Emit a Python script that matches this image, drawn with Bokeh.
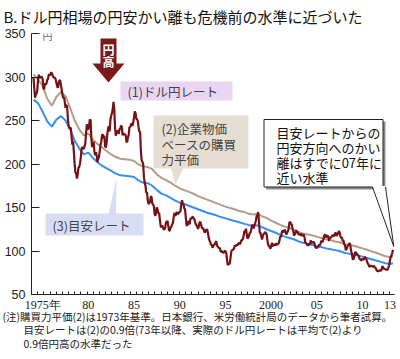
import numpy as np
from bokeh.plotting import figure
from bokeh.models import FixedTicker, Label, Range1d, Title
from bokeh.embed import file_html
from bokeh.resources import INLINE

# ---------------- data ----------------
rate_start_year = 1974
# (1) USD/JPY monthly average, Jan 1974 - May 2013
usd_jpy_monthly = [
    299.0, 287.6, 276.3, 279.9, 281.2, 284.4, 297.5, 302.6, 299.3, 299.6, 300.0, 300.2,
    297.7, 286.6, 286.1, 292.7, 291.4, 292.4, 296.7, 297.5, 302.8, 302.6, 302.0, 305.2,
    304.6, 302.1, 300.0, 299.2, 299.2, 297.6, 293.6, 289.3, 287.6, 292.7, 295.9, 296.3,
    290.4, 286.0, 279.7, 275.8, 277.2, 271.6, 264.6, 267.6, 266.9, 254.3, 244.2, 240.8,
    241.9, 241.3, 231.6, 222.3, 226.2, 213.9, 200.1, 190.3, 189.3, 183.3, 187.7, 195.6,
    196.6, 200.1, 206.5, 216.9, 219.6, 218.0, 217.2, 220.3, 223.4, 235.3, 245.7, 240.5,
    239.5, 245.0, 251.4, 250.2, 228.8, 219.4, 222.7, 225.8, 214.2, 210.1, 213.6, 209.5,
    202.2, 205.9, 208.3, 215.2, 222.5, 225.6, 233.4, 233.9, 229.4, 232.6, 220.3, 219.0,
    224.8, 235.2, 241.2, 243.5, 237.3, 251.5, 255.3, 258.6, 262.8, 271.3, 264.4, 242.6,
    232.6, 235.8, 238.4, 237.6, 234.7, 240.0, 240.6, 244.2, 242.3, 233.0, 235.3, 234.3,
    233.9, 233.5, 225.7, 225.3, 230.4, 233.1, 242.6, 242.2, 245.5, 246.7, 243.6, 247.9,
    254.1, 260.5, 258.4, 251.7, 251.6, 248.9, 241.7, 237.2, 236.9, 214.7, 204.0, 202.8,
    199.9, 184.9, 178.7, 175.1, 167.0, 167.5, 158.6, 154.2, 154.8, 156.5, 162.9, 162.0,
    154.5, 153.5, 151.6, 143.0, 140.5, 144.5, 150.3, 147.3, 143.3, 143.3, 135.4, 128.2,
    127.4, 129.3, 127.2, 124.9, 124.8, 127.5, 133.1, 133.6, 134.5, 128.9, 123.2, 123.6,
    127.4, 127.8, 130.4, 132.0, 138.4, 143.9, 140.4, 141.5, 145.1, 141.9, 143.5, 143.7,
    145.0, 145.7, 153.3, 158.5, 154.0, 153.7, 149.0, 147.5, 138.4, 129.6, 129.2, 133.9,
    133.7, 130.5, 137.4, 137.1, 138.2, 139.8, 137.8, 136.8, 134.3, 130.8, 129.6, 128.0,
    125.5, 128.0, 132.9, 133.5, 130.8, 126.8, 125.9, 126.2, 122.6, 121.2, 123.9, 123.9,
    124.9, 120.8, 115.4, 112.2, 110.2, 107.3, 107.5, 103.8, 105.7, 107.0, 107.9, 109.9,
    111.4, 106.3, 105.1, 103.5, 103.8, 102.7, 98.6, 100.0, 98.8, 98.4, 98.0, 100.2,
    99.8, 98.2, 90.8, 83.7, 85.2, 84.6, 87.2, 94.6, 100.5, 100.8, 101.9, 101.9,
    105.8, 105.8, 105.9, 107.4, 106.5, 108.8, 109.2, 107.8, 109.8, 112.4, 112.3, 113.9,
    118.0, 123.0, 122.7, 125.6, 119.2, 114.3, 115.4, 117.9, 120.9, 121.1, 125.4, 129.7,
    129.5, 125.8, 129.1, 131.8, 135.0, 140.4, 140.9, 144.7, 134.5, 121.1, 120.6, 117.4,
    113.3, 116.7, 119.5, 119.8, 122.0, 120.7, 119.8, 113.3, 107.4, 106.0, 104.8, 102.6,
    105.2, 109.3, 106.3, 105.6, 108.3, 106.1, 108.2, 108.1, 106.8, 108.4, 108.9, 112.2,
    116.7, 116.1, 121.2, 123.8, 121.8, 122.2, 124.6, 121.5, 118.9, 121.4, 122.4, 125.6,
    132.7, 133.6, 131.1, 130.8, 126.4, 123.3, 117.9, 118.9, 120.4, 123.9, 121.5, 121.9,
    118.8, 119.3, 118.6, 119.9, 117.4, 118.3, 118.7, 118.7, 114.8, 109.5, 109.2, 107.7,
    106.3, 106.7, 108.5, 107.7, 112.2, 109.4, 109.5, 110.2, 110.1, 108.8, 104.7, 103.8,
    103.3, 104.9, 104.9, 107.2, 106.6, 108.8, 111.9, 110.6, 111.2, 114.9, 118.5, 118.5,
    115.5, 117.9, 117.3, 117.1, 111.5, 114.5, 115.6, 115.9, 117.2, 118.6, 117.3, 117.3,
    120.6, 120.5, 117.3, 118.8, 120.8, 122.6, 121.6, 116.8, 115.0, 115.9, 111.2, 112.4,
    107.6, 107.1, 100.8, 102.6, 104.4, 106.9, 106.9, 109.4, 106.6, 100.1, 96.9, 91.3,
    90.2, 92.6, 97.8, 98.9, 96.7, 96.6, 94.5, 94.9, 91.4, 90.3, 89.2, 89.5,
    91.3, 90.1, 90.7, 93.4, 91.8, 90.9, 87.7, 85.4, 84.4, 81.8, 82.5, 83.3,
    82.6, 82.5, 81.6, 83.2, 81.1, 80.5, 79.3, 77.0, 76.8, 76.7, 77.5, 77.8,
    76.9, 78.5, 82.4, 81.4, 79.7, 79.3, 79.0, 78.7, 78.2, 78.9, 80.9, 83.6,
    89.1, 93.1, 94.8, 97.7, 101.5,
]

# (2) PPP (corporate goods price based) and (3) guide rate, half-yearly
ppp_years = [
    1974.0, 1974.5, 1975.0, 1975.5, 1976.0, 1976.5, 1977.0, 1977.5, 1978.0, 1978.5,
    1979.0, 1979.5, 1980.0, 1980.5, 1981.0, 1981.5, 1982.0, 1982.5, 1983.0, 1983.5,
    1984.0, 1984.5, 1985.0, 1985.5, 1986.0, 1986.5, 1987.0, 1987.5, 1988.0, 1988.5,
    1989.0, 1989.5, 1990.0, 1990.5, 1991.0, 1991.5, 1992.0, 1992.5, 1993.0, 1993.5,
    1994.0, 1994.5, 1995.0, 1995.5, 1996.0, 1996.5, 1997.0, 1997.5, 1998.0, 1998.5,
    1999.0, 1999.5, 2000.0, 2000.5, 2001.0, 2001.5, 2002.0, 2002.5, 2003.0, 2003.5,
    2004.0, 2004.5, 2005.0, 2005.5, 2006.0, 2006.5, 2007.0, 2007.5, 2008.0, 2008.5,
    2009.0, 2009.5, 2010.0, 2010.5, 2011.0, 2011.5, 2012.0, 2012.5, 2013.0, 2013.33,
]
ppp_values = [
    303, 297, 290, 275, 267, 277, 283, 278, 265, 250,
    240, 233, 235, 228, 223, 219, 215, 211, 208, 206,
    205.5, 205, 203.5, 199.5, 197, 196.5, 194, 188, 184, 181.5,
    178.5, 175, 172, 170, 168, 166, 163, 161, 159, 157,
    155, 153, 151, 149.5, 148, 146, 145, 143, 142, 142.5,
    140, 138, 135, 132.5, 130, 128, 126.5, 124.5, 122, 120,
    119, 118, 116.5, 115, 113.5, 112.5, 111, 110, 108, 107,
    106, 104.5, 103, 101.5, 99.5, 98, 96, 94, 93, 93.5,
]
guide_values = [
    274, 270, 260, 249, 243, 251, 255, 250, 240, 227,
    218, 211, 213, 207, 202, 198, 195, 192, 189, 187,
    186.5, 186, 185, 181, 178.5, 178, 175, 170, 166, 164,
    161, 158, 155.5, 154, 152, 150, 148, 146, 144, 142.5,
    141, 139, 137.5, 136, 134.5, 133, 131.5, 130, 129, 129.5,
    127.5, 125, 123, 121, 118.5, 116.5, 115, 113.5, 111, 109.5,
    108, 107, 105.5, 104.5, 103, 102, 101, 100, 98, 97,
    96, 95, 93.5, 92, 90.5, 89, 87.5, 86, 85, 86,
]

x_tick_years = [1975, 1980, 1985, 1990, 1995, 2000, 2005, 2010, 2013]
x_tick_labels = ["1975年", "80", "85", "90", "95", "2000", "05", "10", "13"]
y_ticks = [50, 100, 150, 200, 250, 300, 350]

title_text = "B.ドル円相場の円安かい離も危機前の水準に近づいた"
unit_text = "円"
label_1 = "(1)ドル円レート"
label_2 = ["(2)企業物価", "ベースの購買", "力平価"]
label_3 = "(3)目安レート"
callout_lines = ["目安レートからの", "円安方向へのかい", "離はすでに07年に", "近い水準"]
arrow_chars = ["円", "高"]
note_lines = [
    "(注)購買力平価(2)は1973年基準。日本銀行、米労働統計局のデータから筆者試算。",
    "\u3000\u3000目安レートは(2)の0.9倍(73年以降、実際のドル円レートは平均で(2)より",
    "\u3000\u30000.9倍円高の水準だった",
]

# ---------------- layout ----------------
W, H = 400, 359
X0, X1 = 1973.78, 2013.5
Y0, Y1 = 50, 350
# page-pixel positions of the plot frame
FL, FR, FT, FB = 31, 394, 33, 294

def dx(px):
    return X0 + (px - FL) * (X1 - X0) / (FR - FL)

def dy(py):
    return Y0 + (FB - py) * (Y1 - Y0) / (FB - FT)

JP = "Noto Sans CJK JP"

p = figure(width=W, height=H, x_range=Range1d(X0, X1), y_range=Range1d(Y0, Y1),
           output_backend="svg", toolbar_location=None,
           min_border_left=FL, min_border_right=W - FR,
           min_border_top=FT, min_border_bottom=H - FB)
p.outline_line_color = None
p.grid.visible = False
p.background_fill_color = "white"
p.border_fill_color = "white"

# title (top)
p.title.text = title_text
p.title.align = "left"
p.title.vertical_align = "top"
p.title.offset = -28
p.title.standoff = 9
p.title.text_font = JP
p.title.text_font_size = "15px"
p.title.text_font_style = "normal"
p.title.text_color = "#111111"

# axes
step = 6.17 * (X1 - X0) / (FR - FL)
p.xaxis.ticker = FixedTicker(ticks=x_tick_years, minor_ticks=list(np.arange(X0, X1, step)))
p.xaxis.major_label_overrides = {y: l for y, l in zip(x_tick_years, x_tick_labels)}
p.xaxis.major_tick_in = 0
p.xaxis.major_tick_out = 0
p.xaxis.minor_tick_in = 3
p.xaxis.minor_tick_out = 0
p.xaxis.minor_tick_line_color = "#222222"
p.xaxis.axis_line_color = "#222222"
p.xaxis.major_label_text_font = "Liberation Sans Narrow"
p.xaxis.major_label_text_font_size = "12px"
p.xaxis.major_label_text_color = "#222222"
p.xaxis.major_label_standoff = 3

p.yaxis.ticker = FixedTicker(ticks=y_ticks, minor_ticks=[])
p.yaxis.major_tick_in = 8
p.yaxis.major_tick_out = 0
p.yaxis.minor_tick_in = 0
p.yaxis.minor_tick_out = 0
p.yaxis.major_tick_line_color = "#222222"
p.yaxis.axis_line_color = "#222222"
p.yaxis.major_label_text_font = "Liberation Sans"
p.yaxis.major_label_text_font_size = "12.5px"
p.yaxis.major_label_text_color = "#222222"
p.yaxis.major_label_standoff = 6

# footnote block (below the x axis)
p.add_layout(Title(text="\n".join(note_lines), align="left", vertical_align="top",
                   offset=-29, standoff=-12, text_line_height=0.92,
                   text_font=JP, text_font_size="10.5px", text_font_style="normal",
                   text_color="#222222"), "below")

# series
months = rate_start_year + np.arange(len(usd_jpy_monthly)) / 12.0
p.line(ppp_years, ppp_values, line_color="#b39d86", line_width=2)
p.line(ppp_years, guide_values, line_color="#3b8ff0", line_width=2)
p.line(months, usd_jpy_monthly, line_color="#741218", line_width=2.2)

# ---- annotation boxes ----
# 円高 arrow
dark = "#7a1a1a"
p.quad(left=dx(100), right=dx(116), top=dy(38), bottom=dy(66), fill_color=dark, line_color=None)
p.patch([dx(92), dx(124), dx(108)], [dy(63), dy(63), dy(82)], fill_color=dark, line_color=None)
for ch, yy in zip(arrow_chars, [49, 61]):
    p.add_layout(Label(x=dx(108), y=dy(yy), text=ch, text_font=JP, text_font_size="12px",
                       text_font_style="bold", text_color="white", text_align="center",
                       text_baseline="middle"))

# (1)
p.quad(left=dx(120), right=dx(232), top=dy(81), bottom=dy(100), fill_color="#e8d6f2", line_color=None)
p.add_layout(Label(x=dx(127), y=dy(90.5), text=label_1, text_font=JP, text_font_size="12.5px",
                   text_color="#444444", text_baseline="middle"))

# (2)
beige = "#e6ded3"
p.quad(left=dx(153), right=dx(248), top=dy(115), bottom=dy(168), fill_color=beige, line_color=None)
p.patch([dx(170), dx(183), dx(175)], [dy(167), dy(167), dy(184)], fill_color=beige, line_color=None)
for txt, yy in zip(label_2, [128, 143.5, 158.5]):
    p.add_layout(Label(x=dx(161), y=dy(yy), text=txt, text_font=JP, text_font_size="12.5px",
                       text_color="#444444", text_baseline="middle"))

# (3)
peri = "#d9ddf4"
p.quad(left=dx(45), right=dx(143), top=dy(213), bottom=dy(235), fill_color=peri, line_color=None)
p.patch([dx(108), dx(115.5), dx(116)], [dy(214), dy(214), dy(178)], fill_color=peri, line_color=None)
p.add_layout(Label(x=dx(52), y=dy(224.5), text=label_3, text_font=JP, text_font_size="12.5px",
                   text_color="#444444", text_baseline="middle"))

# callout
p.quad(left=dx(265.5), right=dx(385), top=dy(121), bottom=dy(189), fill_color="#8c8c8c", line_color=None)
p.quad(left=dx(263.5), right=dx(382.5), top=dy(119), bottom=dy(186.5), fill_color="white",
       line_color="#222222", line_width=1)
p.patch([dx(372), dx(385), dx(393.3)], [dy(185.5), dy(185.5), dy(246)], fill_color="white", line_color=None)
p.multi_line([[dx(372), dx(393.3)], [dx(385), dx(393.3)]],
             [[dy(186.5), dy(246)], [dy(186.5), dy(246)]], line_color="#222222", line_width=1)
for txt, yy in zip(callout_lines, [131.5, 147, 162, 177]):
    p.add_layout(Label(x=dx(276), y=dy(yy), text=txt, text_font=JP, text_font_size="13px",
                       text_color="#111111", text_baseline="middle"))

# unit
p.add_layout(Label(x=dx(42), y=dy(34.5), text=unit_text, text_font=JP,
                   text_font_size="10px", text_color="#666666", text_baseline="middle"))

open("out.html", "w").write(file_html(p, INLINE))
